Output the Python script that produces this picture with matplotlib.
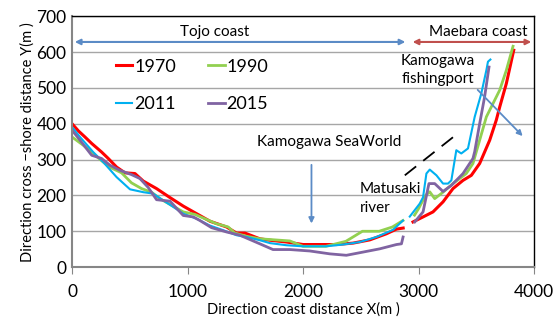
import matplotlib.pyplot as plt

plt.rcParams['font.family'] = ['Lato', 'DejaVu Sans']

# shoreline positions, split at the Matusaki river mouth
x70_a = [0, 55, 112, 170, 256, 314, 386, 458, 545, 617, 732, 848, 964, 1079, 1194, 1338, 1424, 1497,
         1626, 1713, 1857, 2000, 2145, 2290, 2434, 2578, 2722, 2809, 2867]
y70_a = [400, 380, 363, 345, 321, 303, 279, 263, 261, 240, 219, 194, 170, 149, 128, 112, 95, 95,
         79, 75, 70, 63, 63, 63, 67, 76, 93, 106, 109]
x70_b = [2952, 3039, 3125, 3212, 3298, 3385, 3457, 3529, 3616, 3673, 3703, 3760, 3824]
y70_b = [126, 140, 154, 182, 219, 242, 256, 289, 354, 410, 447, 512, 605]

x90_a = [0, 97, 183, 270, 331, 429, 515, 602, 688, 761, 848, 963, 1064, 1150, 1251, 1352, 1410, 1511,
         1626, 1713, 1886, 2000, 2198, 2371, 2514, 2659, 2774, 2865]
y90_a = [363, 340, 317, 293, 278, 263, 235, 219, 209, 191, 175, 154, 147, 135, 121, 112, 95, 86,
         79, 77, 73, 58, 58, 72, 100, 100, 112, 130]
x90_b = [2965, 3000, 3060, 3097, 3140, 3212, 3298, 3413, 3471, 3529, 3587, 3703, 3760, 3818]
y90_b = [145, 163, 200, 210, 191, 209, 233, 261, 289, 354, 419, 494, 549, 616]

x11_a = [0, 69, 183, 270, 386, 502, 617, 703, 790, 876, 963, 1078, 1193, 1309, 1424, 1511, 1626,
         1713, 1857, 2000, 2198, 2347, 2491, 2635, 2779, 2865]
y11_a = [391, 363, 321, 293, 251, 217, 209, 205, 186, 168, 149, 135, 116, 103, 89, 84, 75,
         67, 61, 58, 58, 63, 70, 84, 104, 130]
x11_b = [2924, 3010, 3039, 3068, 3097, 3155, 3212, 3255, 3284, 3327, 3370, 3428, 3486, 3543, 3587,
         3601, 3622]
y11_b = [141, 177, 195, 261, 272, 256, 233, 233, 242, 326, 317, 331, 419, 484, 549, 573, 579]

x15_a = [0, 69, 170, 256, 329, 415, 515, 588, 660, 732, 848, 963, 1050, 1107, 1208, 1338, 1453, 1554,
         1626, 1740, 1886, 2059, 2232, 2375, 2520, 2664, 2809, 2852, 2866]
y15_a = [382, 354, 312, 303, 284, 270, 258, 247, 222, 188, 184, 144, 140, 130, 110, 98, 89, 75,
         65, 49, 49, 45, 37, 33, 42, 51, 63, 65, 84]
x15_b = [2967, 3039, 3090, 3140, 3212, 3284, 3385, 3471, 3486, 3529, 3572, 3610]
y15_b = [126, 154, 233, 233, 211, 228, 261, 303, 322, 400, 475, 558]

fig = plt.figure(figsize=(5.54, 3.23), dpi=100)
ax = fig.add_axes([0.130, 0.173, 0.834, 0.777])

h70, = ax.plot(x70_a, y70_a, color='#FF0000', lw=2.2, label='1970')
ax.plot(x70_b, y70_b, color='#FF0000', lw=2.2)
h90, = ax.plot(x90_a, y90_a, color='#92D050', lw=2.0, label='1990')
ax.plot(x90_b, y90_b, color='#92D050', lw=2.0)
h11, = ax.plot(x11_a, y11_a, color='#00B0F0', lw=1.5, label='2011')
ax.plot(x11_b, y11_b, color='#00B0F0', lw=1.5)
h15, = ax.plot(x15_a, y15_a, color='#8064A2', lw=2.0, label='2015')
ax.plot(x15_b, y15_b, color='#8064A2', lw=2.0)

ax.set_xlim(0, 4000)
ax.set_ylim(0, 700)
ax.set_xticks(range(0, 4001, 1000))
ax.set_yticks(range(0, 701, 100))
ax.grid(axis='y', color='#A6A6A6', lw=1)
ax.set_axisbelow(True)
for s in ['top', 'right']:
    ax.spines[s].set_color('black')
    ax.spines[s].set_linewidth(1)
for s in ['left', 'bottom']:
    ax.spines[s].set_color('#868686')
    ax.spines[s].set_linewidth(1.5)
ax.tick_params(axis='x', length=5, color='#868686', labelsize=12.5, pad=7)
ax.tick_params(axis='y', length=0, labelsize=12.5, pad=4)
ax.set_xlabel('Direction coast distance X(m )', fontsize=10.5, labelpad=2)
ax.set_ylabel('Direction cross \u2212shore distance Y(m )', fontsize=10.5, labelpad=1)

# coast extents
ax.annotate('', xy=(0, 628), xytext=(2910, 628),
            arrowprops=dict(arrowstyle='<|-|>', color='#5B8BC6', lw=1.5, mutation_scale=8))
ax.annotate('', xy=(2925, 628), xytext=(4000, 628),
            arrowprops=dict(arrowstyle='<|-|>', color='#C0504D', lw=1.5, mutation_scale=8))
ax.text(1237, 655, 'Tojo coast', ha='center', va='center', fontsize=11)
ax.text(3520, 655, 'Maebara coast', ha='center', va='center', fontsize=11)

ax.text(3166, 550, 'Kamogawa\nfishingport', ha='center', va='center', fontsize=11, linespacing=1.4)
ax.annotate('', xy=(3918, 360), xytext=(3495, 500),
            arrowprops=dict(arrowstyle='-|>', color='#5B8BC6', lw=1.3, mutation_scale=8))

ax.text(2223, 349, 'Kamogawa SeaWorld', ha='center', va='center', fontsize=11)
ax.annotate('', xy=(2073, 114), xytext=(2073, 293),
            arrowprops=dict(arrowstyle='-|>', color='#5B8BC6', lw=1.3, mutation_scale=8))

ax.plot([2881, 3356], [256, 377], color='black', lw=1.3, linestyle=(0, (8, 5)))
ax.text(2491, 191, 'Matusaki\nriver', ha='left', va='center', fontsize=11, linespacing=1.4)

# two rows: 1970/1990 on top, 2011/2015 below
ax.legend([h70, h11, h90, h15], ['1970', '2011', '1990', '2015'],
          loc='upper left', bbox_to_anchor=(0.06, 0.895), ncol=2, frameon=False, fontsize=13,
          handlelength=0.9, handletextpad=0.1, columnspacing=1.8, labelspacing=1.2)

fig.savefig('out.png', dpi=100)
